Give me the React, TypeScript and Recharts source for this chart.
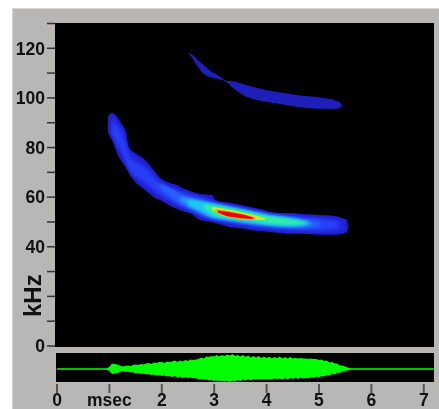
import { AreaChart, Area, XAxis, YAxis, CartesianGrid } from "recharts";

// kHz bands of the sonogram, one set per contour level
const upperT = [2.52, 2.58, 2.69, 2.82, 2.98, 3.05, 3.24, 3.36, 3.55, 3.82, 4.2, 4.58, 5.02, 5.34, 5.4, 5.44];
const upperHi = [118.1, 117.5, 115.3, 112.9, 110.1, 109.3, 106.9, 106.7, 105.6, 104, 102.4, 101.2, 100.2, 98.8, 98.2, 97.2];
const upperLo = [117.7, 116.1, 112.5, 109.3, 108.1, 107.7, 106.3, 104, 101.2, 99.2, 97.8, 96.4, 95.6, 95.6, 96, 96.6];

const l1T = [0.97, 1.01, 1.05, 1.11, 1.16, 1.24, 1.32, 1.34, 1.39, 1.49, 1.58, 1.68, 1.77, 1.87, 1.97, 2.06, 2.16, 2.29, 2.44, 2.54, 2.73, 2.96, 3.02, 3.15, 3.3, 3.49, 3.68, 3.87, 4.06, 4.26, 4.45, 4.69, 5.02, 5.31, 5.44, 5.53, 5.55];
const l1Hi = [92.3, 93.5, 94, 93.1, 91.9, 89.1, 85.9, 82.7, 79.4, 77.8, 76.6, 75, 73, 70.2, 67.7, 66.5, 65.7, 64.9, 63.3, 62.5, 61.3, 60.9, 58.9, 58.1, 57.7, 56.9, 56, 55.2, 54, 53.6, 53.6, 53.2, 52.8, 52.4, 51.6, 50.8, 49.2];
const l1Lo = [86.3, 84.7, 83.1, 79.8, 77, 74.2, 71.8, 71, 69, 66.1, 64.5, 62.9, 61.3, 59.7, 58.9, 57.7, 56.5, 55.2, 54, 53.6, 50.8, 50, 49.6, 48.8, 48, 47.6, 46.8, 46.4, 46, 45.6, 45.2, 45.2, 44.8, 44.8, 45.2, 46, 47.2];

const l2T = [1.01, 1.07, 1.16, 1.28, 1.39, 1.58, 1.77, 1.97, 2.16, 2.44, 2.73, 3.02, 3.3, 3.68, 4.26, 4.83, 5.31, 5.48];
const l2Hi = [91.9, 92.7, 90.3, 86.3, 78.2, 75, 71.4, 66.5, 64.1, 62.1, 60.5, 58.1, 56.9, 55.2, 52.8, 52, 51.2, 50];
const l2Lo = [87.1, 83.1, 79, 75, 70.2, 66.1, 62.9, 60.1, 58.1, 55.2, 52.4, 50.8, 49.2, 48, 46.8, 46, 46, 46.8];

const l3T = [1.05, 1.16, 1.28, 1.39, 1.68, 1.97, 2.25, 2.54, 2.82, 3.11, 3.49, 4.06, 4.64, 5.11, 5.36];
const l3Hi = [90.3, 87.9, 82.3, 75.8, 71.8, 65.3, 62.9, 60.9, 59.3, 57.3, 55.6, 53.2, 52, 51.2, 50];
const l3Lo = [85.5, 81.5, 76.6, 71, 66.1, 61.3, 57.7, 54.8, 52, 50.4, 49.2, 47.6, 46.8, 46.8, 47.6];

const l4T = [1.97, 2.16, 2.35, 2.63, 2.92, 3.21, 3.59, 4.06, 4.64, 5.02];
const l4Hi = [65.6, 63.8, 61.3, 59.3, 57.7, 56.5, 54.8, 52.8, 51.2, 50];
const l4Lo = [63.6, 60.2, 57.3, 54.4, 52, 50.8, 49.6, 48.4, 47.6, 48];

const l4bT = [2.35, 2.63, 2.92, 3.21, 3.59, 4.06, 4.5, 4.85];
const l4bHi = [60.3, 58.9, 57.5, 56.3, 54.6, 52.6, 51.4, 50];
const l4bLo = [58.3, 55.3, 52.2, 51, 49.8, 48.6, 48, 48.6];

const l5T = [2.5, 2.73, 2.96, 3.21, 3.59, 4.06, 4.54, 4.79];
const l5Hi = [59.3, 58.5, 57.3, 56, 54.4, 52.4, 51.2, 50];
const l5Lo = [56.5, 54.4, 52, 51.2, 50, 48.8, 48.4, 49.2];

const l6T = [2.82, 3.02, 3.3, 3.68, 4.06, 4.45, 4.75];
const l6Hi = [57.3, 56.5, 55.6, 53.8, 52.2, 51, 50];
const l6Lo = [55.2, 52.6, 51.4, 50.6, 49.4, 49, 49.6];

const l7T = [2.96, 3.11, 3.4, 3.68, 3.97];
const l7Hi = [56, 55.6, 54.4, 53.2, 51.6];
const l7Lo = [54.8, 53.2, 51.6, 50.8, 50.8];

const l8T = [3.02, 3.21, 3.49, 3.78];
const l8Hi = [55.2, 54.6, 53.4, 52];
const l8Lo = [54, 52.4, 51.2, 50.8];

const l9T = [3.07, 3.21, 3.4, 3.59, 3.74];
const l9Hi = [54.6, 54.2, 53.6, 52.8, 51.8];
const l9Lo = [53.8, 52.6, 51.8, 51.4, 51.2];

// waveform envelope
const waveT = [
  0, 0.5, 0.95,
  1, 1.05, 1.1, 1.15, 1.2, 1.25, 1.3, 1.35, 1.4, 1.45,
  1.5, 1.55, 1.6, 1.65, 1.7, 1.75, 1.8, 1.85, 1.9, 1.95,
  2, 2.05, 2.1, 2.15, 2.2, 2.25, 2.3, 2.35, 2.4, 2.45,
  2.5, 2.55, 2.6, 2.65, 2.7, 2.75, 2.8, 2.85, 2.9, 2.95,
  3, 3.05, 3.1, 3.15, 3.2, 3.25, 3.3, 3.35, 3.4, 3.45,
  3.5, 3.55, 3.6, 3.65, 3.7, 3.75, 3.8, 3.85, 3.9, 3.95,
  4, 4.05, 4.1, 4.15, 4.2, 4.25, 4.3, 4.35, 4.4, 4.45,
  4.5, 4.55, 4.6, 4.65, 4.7, 4.75, 4.8, 4.85, 4.9, 4.95,
  5, 5.05, 5.1, 5.15, 5.2, 5.25, 5.3, 5.35, 5.4, 5.45,
  5.5, 5.55, 5.6, 6, 6.5, 7, 7.19,
];
const waveHi = [
  0.8, 0.8, 0.8,
  2, 5.5, 5, 4.5, 3.5, 2.5, 3, 3.5, 3, 4,
  4.5, 4, 5, 4.5, 5.5, 6, 5, 6.5, 6, 7,
  7, 6, 7.5, 7, 7.5, 8.5, 7, 8.5, 7.5, 9,
  8, 9.5, 9, 9.5, 10, 11.5, 10.5, 12.5, 12, 13,
  12.5, 14, 12.5, 14, 13, 14.5, 13.5, 15, 13, 14,
  12.5, 14, 12, 13.5, 11.5, 13, 11.5, 13, 11, 12.5,
  11, 12.5, 10.5, 12, 11, 12.5, 10.5, 12, 10.5, 12,
  10.5, 11, 10.5, 11, 10.5, 10.5, 10, 10.5, 10, 10,
  9, 9.5, 8, 8.5, 6.5, 7, 5.5, 5.5, 3.5, 3.5,
  2.5, 1.5, 0.8, 0.8, 0.8, 0.8, 0.8,
];
const waveLo = [
  -0.8, -0.8, -0.8,
  -2, -5, -4.5, -4, -3, -2, -3, -2.5, -3.5, -3,
  -4.5, -4, -5, -4.5, -5.5, -5, -6, -5.5, -6.5, -6,
  -7, -6.5, -7.5, -7, -8, -7, -8.5, -7.5, -9, -8,
  -9, -8.5, -9.5, -9, -10.5, -10, -10.5, -10.5, -11.5, -11,
  -12, -11.5, -12, -11.5, -12.5, -11.5, -13, -11.5, -12.5, -11,
  -12, -10.5, -11.5, -10, -11.5, -10, -10.5, -10, -10.5, -10,
  -10.5, -10, -10.5, -9.5, -10, -9.5, -10.5, -9, -10.5, -9,
  -10, -8.5, -10, -8.5, -9.5, -9, -9.5, -8, -9, -7.5,
  -8.5, -7, -7.5, -6, -6.5, -4.5, -5.5, -3.5, -4, -2,
  -2, -1.5, -0.8, -0.8, -0.8, -0.8, -0.8,
];

const freqTicks = [0, 10, 20, 30, 40, 50, 60, 70, 80, 90, 100, 110, 120, 130];
const freqLabels = [0, 40, 60, 80, 100, 120];
const timeTicks = [0, 1, 2, 3, 4, 5, 6, 7];

const band = (t: number[], hi: number[], lo: number[]) =>
  t.map((v, i) => ({ t: v, band: [lo[i], hi[i]] }));

const levels = [
  { data: band(upperT, upperHi, upperLo), color: "#1e1eb8", soft: "" },
  { data: band(l1T, l1Hi, l1Lo), color: "#1e1ec8", soft: "" },
  { data: band(l2T, l2Hi, l2Lo), color: "#2626e0", soft: "url(#soft)" },
  { data: band(l3T, l3Hi, l3Lo), color: "#2840f8", soft: "url(#soft)" },
  { data: band(l4T, l4Hi, l4Lo), color: "#2860ff", soft: "url(#soft)" },
  { data: band(l4bT, l4bHi, l4bLo), color: "#2498fa", soft: "url(#soft)" },
  { data: band(l5T, l5Hi, l5Lo), color: "#1cc8f0", soft: "url(#soft)" },
  { data: band(l6T, l6Hi, l6Lo), color: "#30f0a0", soft: "url(#soft)" },
  { data: band(l7T, l7Hi, l7Lo), color: "#c0f020", soft: "url(#fine)" },
  { data: band(l8T, l8Hi, l8Lo), color: "#ffa000", soft: "url(#fine)" },
  { data: band(l9T, l9Hi, l9Lo), color: "#f00000", soft: "url(#fine)" },
];

const waveRows = band(waveT, waveHi, waveLo);

const GREY = "#b9b6b6";
const font = { fontFamily: "'Liberation Sans', Arial, sans-serif", fontWeight: 700, fontSize: 17.5, fill: "#111" };

export default function App() {
  return (
    <div style={{ position: "absolute", left: 0, top: 0, width: 439, height: 409, background: "#fff", overflow: "hidden", filter: "blur(0.3px)" }}>
      <div style={{ position: "absolute", left: 12, top: 8, width: 427, height: 401, background: GREY, borderLeft: "1px solid #d4d4d4", borderTop: "1px solid #d4d4d4", boxSizing: "border-box" }} />
      <div style={{ position: "absolute", left: 0, top: 0 }}>
        <AreaChart width={439} height={362} margin={{ top: 23, right: 5, bottom: 15, left: 0 }}>
          <defs>
            <filter id="soft" x="-10%" y="-30%" width="120%" height="160%">
              <feGaussianBlur stdDeviation="1.4" />
            </filter>
            <filter id="fine" x="-10%" y="-50%" width="120%" height="200%">
              <feGaussianBlur stdDeviation="0.6" />
            </filter>
          </defs>
          <CartesianGrid fill="#000" horizontal={false} vertical={false} />
          <XAxis type="number" dataKey="t" domain={[-0.038, 7.195]} hide allowDataOverflow />
          <YAxis
            type="number"
            width={55}
            domain={[-0.4, 130.2]}
            ticks={freqTicks}
            allowDataOverflow
            interval={0}
            axisLine={false}
            tickSize={8}
            tickMargin={2}
            tickLine={{ stroke: "#333", strokeWidth: 1.5 }}
            tick={font}
            tickFormatter={(v: number) => (freqLabels.includes(v) ? String(v) : "")}
            label={{ value: "kHz", angle: -90, position: "insideLeft", dx: 27, dy: 132, style: { ...font, fontSize: 24 } }}
          />
          {levels.map((l, i) => (
            <Area
              key={i}
              data={l.data}
              dataKey="band"
              type="monotone"
              stroke="none"
              fill={l.color}
              fillOpacity={1}
              filter={l.soft || undefined}
              dot={false}
              activeDot={false}
              isAnimationActive={false}
            />
          ))}
        </AreaChart>
      </div>
      <div style={{ position: "absolute", left: 0, top: 345 }}>
        <AreaChart width={439} height={64} data={waveRows} margin={{ top: 8, right: 5, bottom: 0, left: 56 }}>
          <CartesianGrid fill="#000" horizontal={false} vertical={false} />
          <XAxis
            type="number"
            dataKey="t"
            domain={[-0.019, 7.195]}
            ticks={timeTicks}
            interval={0}
            height={27}
            allowDataOverflow
            axisLine={false}
            tickSize={9}
            tickMargin={3}
            tickLine={{ stroke: "#555", strokeWidth: 2, transform: "translate(0,2)" }}
            tick={font}
            tickFormatter={(v: number) => (v === 1 ? "msec" : String(v))}
          />
          <YAxis type="number" domain={[-13, 16]} hide allowDataOverflow />
          <Area dataKey="band" type="linear" stroke="none" fill="#00ff00" fillOpacity={1} dot={false} activeDot={false} isAnimationActive={false} />
        </AreaChart>
      </div>
    </div>
  );
}
